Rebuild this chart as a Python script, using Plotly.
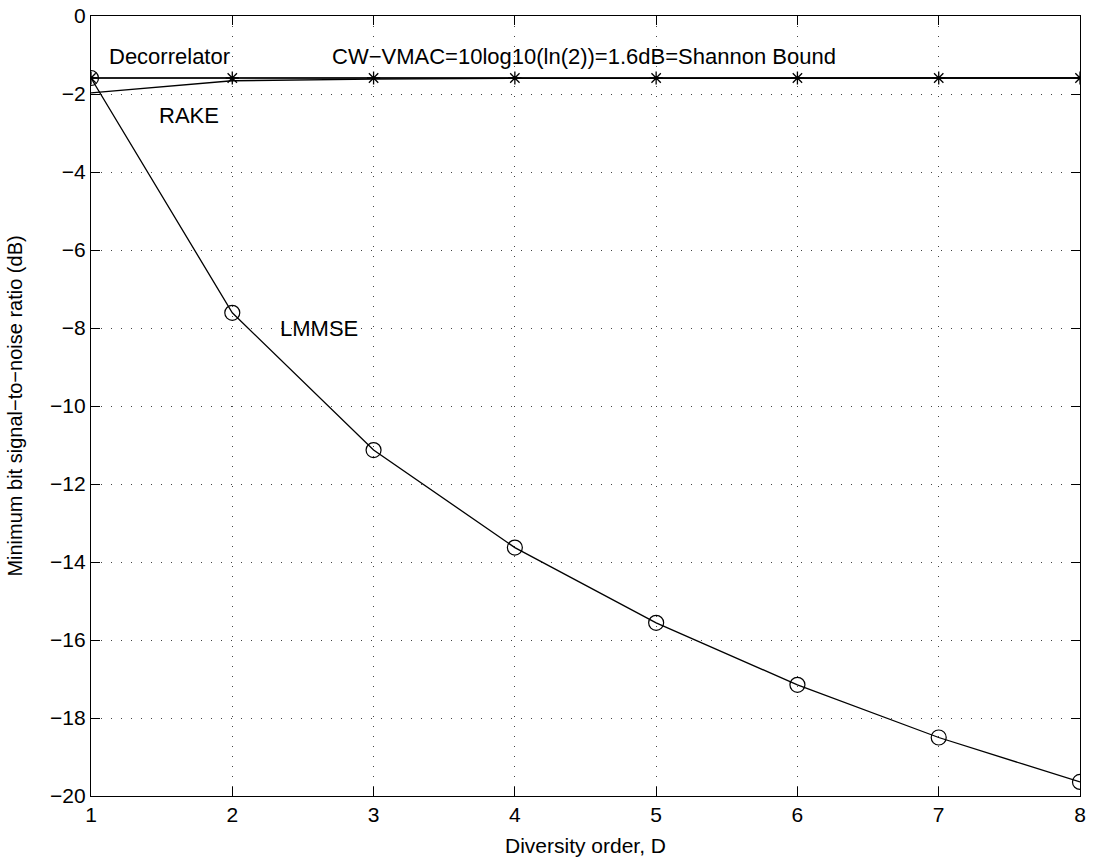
import plotly.graph_objects as go

diversity = [1, 2, 3, 4, 5, 6, 7, 8]
lmmse = [-1.59, -7.61, -11.13, -13.63, -15.56, -17.15, -18.50, -19.64]
cw_vmac = [-1.59, -1.59, -1.59, -1.59, -1.59, -1.59, -1.59, -1.59]
decorrelator = [-1.59, -1.59, -1.59, -1.59, -1.59, -1.59, -1.59, -1.59]
rake = [-1.97, -1.66, -1.62, -1.60, -1.60, -1.59, -1.59, -1.59]

x_ticks = [1, 2, 3, 4, 5, 6, 7, 8]
y_ticks = [0, -2, -4, -6, -8, -10, -12, -14, -16, -18, -20]

labels = [
    ("Decorrelator", 1.11, -1.05),
    ("CW\u2212VMAC=10log10(ln(2))=1.6dB=Shannon Bound", 2.69, -1.05),
    ("RAKE", 1.47, -2.56),
    ("LMMSE", 2.32, -8.0),
]

FONT = "Liberation Sans, Arial, Helvetica, sans-serif"

fig = go.Figure()
fig.add_trace(go.Scatter(x=diversity, y=decorrelator, mode="lines",
                         line=dict(color="#555555", width=1.3), showlegend=False))
fig.add_trace(go.Scatter(x=diversity, y=rake, mode="lines",
                         line=dict(color="black", width=1.3), showlegend=False))
fig.add_trace(go.Scatter(x=diversity, y=cw_vmac, mode="lines+markers",
                         line=dict(color="black", width=1.3),
                         marker=dict(symbol="asterisk-open", size=11,
                                     line=dict(color="black", width=1.3)),
                         showlegend=False))
fig.add_trace(go.Scatter(x=diversity, y=lmmse, mode="lines+markers",
                         line=dict(color="black", width=1.3),
                         marker=dict(symbol="circle-open", size=15, color="black",
                                     line=dict(color="black", width=1.2)),
                         showlegend=False))

for text, x, y in labels:
    fig.add_annotation(x=x, y=y, text=text, showarrow=False, xanchor="left",
                       yanchor="middle", font=dict(family=FONT, size=22, color="black"))

axis_common = dict(
    showline=True, linecolor="black", linewidth=1.2, mirror="allticks",
    ticks="inside", ticklen=9, tickcolor="black", tickwidth=1,
    showgrid=True, gridcolor="#444444", gridwidth=1, griddash="1px,9px",
    zeroline=False, automargin=False, ticklabeloverflow="allow",
    tickfont=dict(family=FONT, size=21, color="black"),
)

fig.update_xaxes(range=[1, 8], tickvals=x_ticks, ticktext=[str(v) for v in x_ticks],
                 title=dict(text="Diversity order, D", standoff=12,
                            font=dict(family=FONT, size=21, color="black")),
                 **axis_common)
fig.update_yaxes(range=[-20, 0], tickvals=y_ticks,
                 title=dict(text="Minimum bit signal\u2212to\u2212noise ratio (dB)", standoff=22,
                            font=dict(family=FONT, size=20, color="black")),
                 **axis_common)

fig.update_layout(
    template="none",
    width=1101, height=859,
    margin=dict(l=91, r=21, t=16, b=63, autoexpand=False),
    paper_bgcolor="white", plot_bgcolor="white",
    font=dict(family=FONT, color="black"),
)

fig.write_html("out.html",
               config={"displayModeBar": False, "staticPlot": True},
               post_script="document.body.style.margin='0';document.body.style.overflow='hidden';")
